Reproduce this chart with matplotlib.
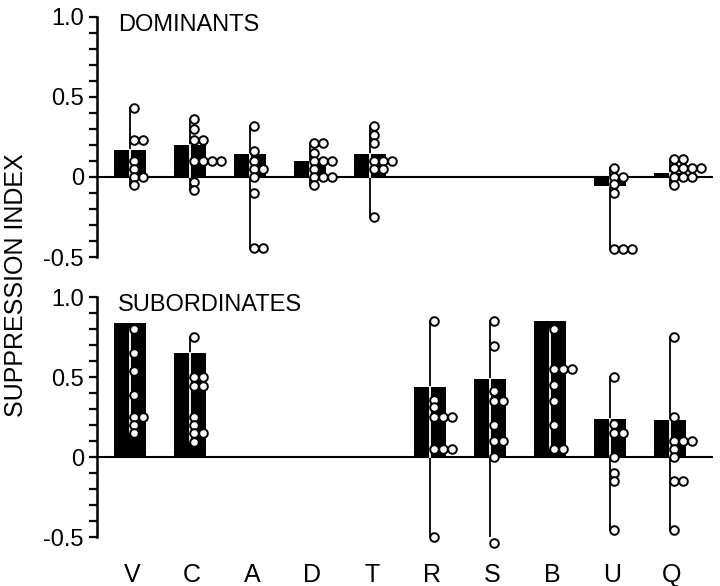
import matplotlib
matplotlib.use("Agg")
import matplotlib.pyplot as plt
import numpy as np

plt.rcParams['font.family'] = ['Liberation Sans', 'DejaVu Sans']

categories = ["V", "C", "A", "D", "T", "R", "S", "B", "U", "Q"]

# Mean bars (None = no data)
dom_bars = [0.17, 0.20, 0.14, 0.10, 0.14, None, None, None, -0.06, 0.025]
sub_bars = [0.835, 0.65, None, None, None, 0.435, 0.49, 0.85, 0.24, 0.23]

# Individual values
dom_V = [0.43, 0.23, 0.23, 0.10, 0.05, 0.0, 0.0, -0.05]
dom_C = [0.36, 0.30, 0.23, 0.23, 0.10, 0.10, 0.10, 0.10, -0.03, -0.08]
dom_A = [0.315, 0.16, 0.10, 0.05, 0.05, 0.0, -0.10, -0.445, -0.445]
dom_D = [0.21, 0.21, 0.15, 0.10, 0.10, 0.10, 0.05, 0.0, 0.0, 0.0, -0.05]
dom_T = [0.315, 0.26, 0.21, 0.10, 0.10, 0.10, 0.05, 0.05, -0.25]
dom_U = [0.055, 0.0, 0.0, -0.045, -0.10, -0.45, -0.45, -0.45]
dom_Q = [0.11, 0.11, 0.055, 0.055, 0.055, 0.055, 0.0, 0.0, 0.0, -0.05]

sub_V = [0.80, 0.65, 0.54, 0.39, 0.25, 0.25, 0.20, 0.15]
sub_C = [0.75, 0.50, 0.50, 0.445, 0.445, 0.25, 0.20, 0.15, 0.15, 0.095]
sub_R = [0.85, 0.355, 0.31, 0.25, 0.25, 0.25, 0.05, 0.05, 0.05, -0.50]
sub_S = [0.85, 0.695, 0.41, 0.35, 0.35, 0.20, 0.10, 0.10, 0.0, -0.54]
sub_B = [0.80, 0.55, 0.55, 0.55, 0.45, 0.35, 0.20, 0.05, 0.05]
sub_U = [0.50, 0.205, 0.15, 0.15, 0.0, -0.10, -0.15, -0.455]
sub_Q = [0.75, 0.25, 0.10, 0.10, 0.10, 0.05, 0.0, -0.15, -0.15, -0.455]

dom_points = [dom_V, dom_C, dom_A, dom_D, dom_T, None, None, None, dom_U, dom_Q]
sub_points = [sub_V, sub_C, None, None, None, sub_R, sub_S, sub_B, sub_U, sub_Q]

W, H = 720, 586
fig = plt.figure(figsize=(7.2, 5.86), dpi=100)

def px_axes(x0, x1, ytop, ybot):
    return fig.add_axes([x0 / W, 1 - ybot / H, (x1 - x0) / W, (ybot - ytop) / H])

ax_top = px_axes(97, 713, 16.5, 257)
ax_bot = px_axes(97, 713, 297, 537)

PX = 1 / 60.0  # data units per pixel along x
bar_w = 32 * PX

def draw_panel(ax, bars, points, title):
    ax.set_xlim(-0.55, 9.72)
    ax.set_ylim(-0.5, 1.0)
    for s in ["top", "right", "bottom"]:
        ax.spines[s].set_visible(False)
    ax.spines["left"].set_linewidth(1.8)
    ax.set_xticks([])
    ax.set_yticks([-0.5, 0, 0.5, 1.0])
    ax.set_yticklabels(["-0.5", "0", "0.5", "1.0"])
    ax.set_yticks(np.arange(-0.5, 1.001, 0.1), minor=True)
    ax.tick_params(axis="y", which="both", length=5.5, width=1.6, direction="out",
                   labelsize=17, pad=4)
    ax.axhline(0, color="black", lw=1.5, zorder=1)
    for i, (b, pts) in enumerate(zip(bars, points)):
        if pts is not None:
            lo, hi = min(pts), max(pts)
            ax.plot([i, i], [lo, hi], color="black", lw=1.3, zorder=1)
        if b is not None:
            ax.bar(i, b, width=bar_w, color="black", zorder=2)
            if pts is not None:
                blo, bhi = min(0, b), max(0, b)
                slo, shi = max(lo, blo), min(hi, bhi)
                if shi > slo:
                    ax.plot([i, i], [slo, shi], color="white", lw=1.3, zorder=3)
        if pts is not None:
            counts = {}
            xs, ys = [], []
            for v in pts:
                k = counts.get(v, 0)
                counts[v] = k + 1
                xs.append(i + (4.4 + 8.8 * k) * PX)
                ys.append(v)
            ax.plot(xs, ys, "o", ms=6.2, mfc="white", mec="black", mew=1.4,
                    zorder=4, clip_on=False)
    ax.text(21 / 616, 1.0 - 8.5 / 240.5, title, transform=ax.transAxes,
            fontsize=17, va="center", ha="left")

draw_panel(ax_top, dom_bars, dom_points, "DOMINANTS")
draw_panel(ax_bot, sub_bars, sub_points, "SUBORDINATES")

for i, c in enumerate(categories):
    ax_bot.text(i + 2 * PX, -0.5 - 45 / 160, c, ha="center", va="baseline",
                fontsize=18, clip_on=False)

fig.text(16 / W, 1 - 285 / H, "SUPPRESSION INDEX", rotation=90,
         ha="center", va="center", fontsize=18)

fig.savefig("out.png", dpi=100)
